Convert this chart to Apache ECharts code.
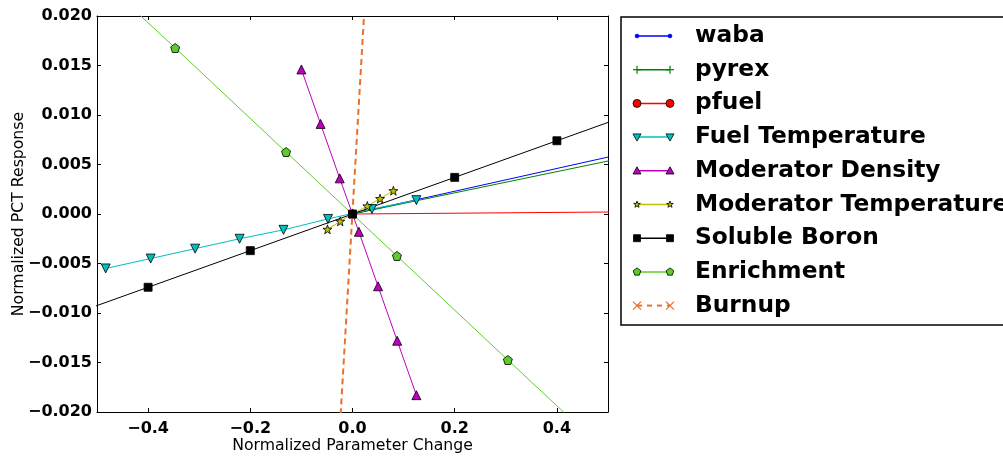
<!DOCTYPE html>
<html>
<head>
<meta charset="utf-8">
<script src="https://cdn.jsdelivr.net/npm/echarts@6/dist/echarts.min.js"></script>
<style>
html,body{margin:0;padding:0;background:#fff;}
#chart{width:1003px;height:456px;}
</style>
</head>
<body>
<div id="chart"></div>
<script>
// ---- data ----
const seriesNames = ['waba','pyrex','pfuel','Fuel Temperature','Moderator Density','Moderator Temperature','Soluble Boron','Enrichment','Burnup'];

const wabaX = [0.0, 1.0];
const wabaY = [0.0, 0.0115];

const pyrexX = [0.0, 1.0];
const pyrexY = [0.0, 0.0107];

const pfuelX = [0.0, 1.0];
const pfuelY = [0.0, 0.0004];

const fuelTempX = [-0.483, -0.395, -0.308, -0.221, -0.135, -0.048, 0.038, 0.125];
const fuelTempY = [-0.0055, -0.0045, -0.0035, -0.0025, -0.0016, -0.0005, 0.0005, 0.0014];

const modDensX = [-0.1, -0.0625, -0.025, 0.0125, 0.05, 0.0875, 0.125];
const modDensY = [0.0146, 0.0091, 0.0036, -0.0018, -0.0073, -0.0128, -0.0183];

const modTempX = [-0.049, -0.024, 0.0, 0.029, 0.054, 0.080];
const modTempY = [-0.00155, -0.00074, 0.0, 0.00081, 0.00155, 0.00235];

const boronX = [-0.6, -0.4, -0.2, 0.0, 0.2, 0.4, 0.6];
const boronY = [-0.0111, -0.0074, -0.0037, 0.0, 0.0037, 0.0074, 0.0111];

const enrichX = [-0.564, -0.347, -0.130, 0.087, 0.304, 0.521];
const enrichY = [0.0272, 0.01677, 0.00626, -0.00424, -0.01475, -0.0252];

const burnupX = [-0.1, 0.1];
const burnupY = [-0.0878, 0.0882];

const xTicks = [-0.4, -0.2, 0.0, 0.2, 0.4];
const yTicks = [-0.02, -0.015, -0.01, -0.005, 0.0, 0.005, 0.01, 0.015, 0.02];

// ---- helpers ----
function pairs(xs, ys){ return xs.map((x,i)=>[x, ys[i]]); }
function fmtNum(v, d){
  const s = Math.abs(v).toFixed(d);
  return (v < -1e-12 ? '\u2212' : '') + s;
}

const STAR = 'path://M0,-10 L2.35,-3.24 L9.51,-3.09 L3.8,1.24 L5.88,8.09 L0,4 L-5.88,8.09 L-3.8,1.24 L-9.51,-3.09 L-2.35,-3.24 Z';
const PENT = 'path://M0,-10 L9.51,-3.09 L5.88,8.09 L-5.88,8.09 L-9.51,-3.09 Z';
const XMARK = 'path://M-5,-5 L5,5 M5,-5 L-5,5';
const PLUS = 'path://M-5,0 L5,0 M0,-5 L0,5';

const font = 'DejaVu Sans';

const styles = [
  {name:'waba', color:'#0000ff', kind:'dot', size:4, lsize:4},
  {name:'pyrex', color:'#008000', kind:'plus', size:8, lsize:8},
  {name:'pfuel', color:'#ff0000', kind:'circle', size:8, lsize:8},
  {name:'Fuel Temperature', color:'#00bfbf', kind:'tdown', size:9, lsize:8},
  {name:'Moderator Density', color:'#bf00bf', kind:'tup', size:9, lsize:8},
  {name:'Moderator Temperature', color:'#bfbf00', kind:'star', size:9, lsize:7},
  {name:'Soluble Boron', color:'#000000', kind:'square', size:8, lsize:7},
  {name:'Enrichment', color:'#5ccc2a', kind:'pent', size:9, lsize:8},
  {name:'Burnup', color:'#e8702a', kind:'x', size:9, lsize:8, dashed:true}
];
const dataSets = [
  [wabaX, wabaY], [pyrexX, pyrexY], [pfuelX, pfuelY], [fuelTempX, fuelTempY],
  [modDensX, modDensY], [modTempX, modTempY], [boronX, boronY], [enrichX, enrichY], [burnupX, burnupY]
];

function echSymbol(kind){
  return {dot:'circle', plus:PLUS, circle:'circle', tdown:'triangle', tup:'triangle', star:STAR, square:'rect', pent:PENT, x:XMARK}[kind];
}

const series = styles.map((st, i) => {
  const stroked = (st.kind === 'plus' || st.kind === 'x');
  return {
    name: st.name,
    type: 'line',
    data: pairs(dataSets[i][0], dataSets[i][1]),
    xAxisIndex: 0, yAxisIndex: 0,
    symbol: echSymbol(st.kind),
    symbolSize: st.size,
    symbolRotate: st.kind === 'tdown' ? 180 : 0,
    showSymbol: true,
    clip: true,
    animation: false,
    lineStyle: st.dashed ? {color: st.color, width: 2, type: [6,4]} : {color: st.color, width: 1},
    itemStyle: stroked ? {color:'none', borderColor: st.color, borderWidth: 1.2}
             : (st.kind === 'dot' ? {color: st.color, borderColor: st.color, borderWidth: 0.5}
             : {color: st.color, borderColor:'#000', borderWidth: 0.8}),
    emphasis: {disabled: true}
  };
});

// ---- legend drawn as graphic ----
const LEG = {left: 621, top: 17, width: 420, height: 308, rowY0: 36, rowStep: 33.7, m1: 637, m2: 670, textX: 695};

function symbolEls(kind, cx, cy, s, color){
  const r = s / 2;
  const fillEdge = {fill: color, stroke: '#000', lineWidth: 0.8};
  switch(kind){
    case 'dot': return [{type:'circle', shape:{cx, cy, r}, style:{fill: color, stroke: color, lineWidth: 0.5}}];
    case 'circle': return [{type:'circle', shape:{cx, cy, r}, style: fillEdge}];
    case 'square': return [{type:'rect', shape:{x: cx - r, y: cy - r, width: s, height: s}, style: fillEdge}];
    case 'tup': return [{type:'polygon', shape:{points:[[cx, cy - r], [cx + r, cy + r*0.8], [cx - r, cy + r*0.8]]}, style: fillEdge}];
    case 'tdown': return [{type:'polygon', shape:{points:[[cx, cy + r], [cx + r, cy - r*0.8], [cx - r, cy - r*0.8]]}, style: fillEdge}];
    case 'pent': {
      const pts = [];
      for (let k = 0; k < 5; k++){ const a = -Math.PI/2 + k*2*Math.PI/5; pts.push([cx + r*Math.cos(a), cy + r*Math.sin(a)]); }
      return [{type:'polygon', shape:{points: pts}, style: fillEdge}];
    }
    case 'star': {
      const pts = [];
      for (let k = 0; k < 10; k++){ const a = -Math.PI/2 + k*Math.PI/5; const rr = (k % 2) ? r*0.4 : r; pts.push([cx + rr*Math.cos(a), cy + rr*Math.sin(a)]); }
      return [{type:'polygon', shape:{points: pts}, style: fillEdge}];
    }
    case 'plus': return [
      {type:'line', shape:{x1: cx - r, y1: cy, x2: cx + r, y2: cy}, style:{stroke: color, lineWidth: 1.2}},
      {type:'line', shape:{x1: cx, y1: cy - r, x2: cx, y2: cy + r}, style:{stroke: color, lineWidth: 1.2}}
    ];
    case 'x': return [
      {type:'line', shape:{x1: cx - r, y1: cy - r, x2: cx + r, y2: cy + r}, style:{stroke: color, lineWidth: 1.2}},
      {type:'line', shape:{x1: cx - r, y1: cy + r, x2: cx + r, y2: cy - r}, style:{stroke: color, lineWidth: 1.2}}
    ];
  }
  return [];
}

const legendEls = [{
  type:'rect', shape:{x: LEG.left, y: LEG.top, width: LEG.width, height: LEG.height},
  style:{fill:'#fff', stroke:'#000', lineWidth: 1.5}
}];
styles.forEach((st, i) => {
  const y = LEG.rowY0 + i * LEG.rowStep;
  legendEls.push({
    type:'line', shape:{x1: LEG.m1, y1: y, x2: LEG.m2, y2: y},
    style: st.dashed ? {stroke: st.color, lineWidth: 2, lineDash: [5,5]} : {stroke: st.color, lineWidth: 1.5}
  });
  symbolEls(st.kind, LEG.m1, y, st.lsize, st.color).forEach(e => legendEls.push(e));
  symbolEls(st.kind, LEG.m2, y, st.lsize, st.color).forEach(e => legendEls.push(e));
  legendEls.push({
    type:'text', x: LEG.textX, y: y,
    style:{text: st.name, fill:'#000', font: 'bold 23.3px "DejaVu Sans"', verticalAlign:'middle', align:'left'}
  });
});

const chart = echarts.init(document.getElementById('chart'), null, {renderer:'canvas'});

const tickCommon = {show:true, inside:true, length:4, lineStyle:{color:'#000', width:1}};
const axisLineCommon = {show:true, onZero:false, lineStyle:{color:'#000', width:1}};

chart.setOption({
  animation: false,
  backgroundColor: '#fff',
  grid: {left: 97, right: 395, top: 16, bottom: 44, containLabel: false, outerBoundsMode: 'none'},
  xAxis: [
    {
      type:'value', min:-0.5, max:0.5, position:'bottom',
      axisLine: axisLineCommon,
      axisTick: Object.assign({customValues: xTicks}, tickCommon),
      axisLabel: {customValues: xTicks, formatter: v => fmtNum(v, 1), fontFamily: font, fontWeight:'bold', fontSize:16, color:'#000', margin:9},
      splitLine: {show:false},
      name: 'Normalized Parameter Change', nameLocation:'middle', nameGap: 26, nameMoveOverlap: false,
      nameTextStyle: {fontFamily: font, fontSize: 15.7, color:'#000'}
    },
    {
      type:'value', min:-0.5, max:0.5, position:'top',
      axisLine: axisLineCommon,
      axisTick: Object.assign({customValues: xTicks}, tickCommon),
      axisLabel: {show:false},
      splitLine: {show:false}
    }
  ],
  yAxis: [
    {
      type:'value', min:-0.02, max:0.02, position:'left',
      axisLine: axisLineCommon,
      axisTick: Object.assign({customValues: yTicks}, tickCommon),
      axisLabel: {customValues: yTicks, formatter: v => fmtNum(v, 3), fontFamily: font, fontWeight:'bold', fontSize:16, color:'#000', margin:5},
      splitLine: {show:false},
      name: 'Normalized PCT Response', nameLocation:'middle', nameGap: 70, nameRotate: 90, nameMoveOverlap: false,
      nameTextStyle: {fontFamily: font, fontSize: 15.7, color:'#000'}
    },
    {
      type:'value', min:-0.02, max:0.02, position:'right',
      axisLine: axisLineCommon,
      axisTick: Object.assign({customValues: yTicks}, tickCommon),
      axisLabel: {show:false},
      splitLine: {show:false}
    }
  ],
  graphic: {elements: [{type:'group', z: 100, children: legendEls}]},
  series: series
});
</script>
</body>
</html>
